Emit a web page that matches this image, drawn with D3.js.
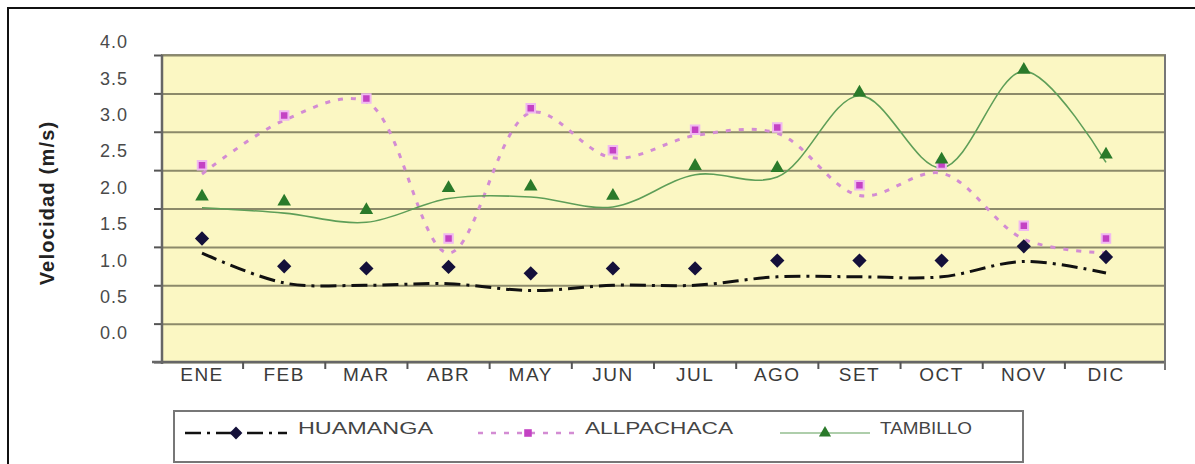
<!DOCTYPE html>
<html>
<head>
<meta charset="utf-8">
<script src="https://cdn.jsdelivr.net/npm/d3@7"></script>
<style>
  body { margin: 0; background: #fff; }
  text { font-family: "Liberation Sans", Arial, sans-serif; }
</style>
</head>
<body>
<svg width="1195" height="464"></svg>
<script>
// monthly mean wind speed (m/s)
var months = ["ENE", "FEB", "MAR", "ABR", "MAY", "JUN", "JUL", "AGO", "SET", "OCT", "NOV", "DIC"];
var huamanga = [1.42, 1.03, 1.0, 1.02, 0.93, 1.0, 1.0, 1.11, 1.11, 1.11, 1.31, 1.16];
var allpachaca = [2.45, 3.15, 3.39, 1.42, 3.25, 2.66, 2.95, 2.98, 2.17, 2.46, 1.6, 1.42];
var tambillo = [2.01, 1.94, 1.82, 2.13, 2.15, 2.02, 2.44, 2.41, 3.47, 2.53, 3.79, 2.6];
var yTicks = [0, 0.5, 1, 1.5, 2, 2.5, 3, 3.5, 4];

var svg = d3.select("svg");

// plot box
var plotLeft = 162, plotRight = 1165, plotTop = 55, plotBottom = 362;

var x = d3.scalePoint().domain(months).range([202, 1106]);
var y = d3.scaleLinear().domain([0, 4]).range([plotBottom, plotTop]);
// the marker layer and the value labels sit slightly higher in the original picture
var yMark = d3.scaleLinear().domain([0, 4]).range([339.5, 55]);
var yLabel = d3.scaleLinear().domain([0, 4]).range([333, 42]);

// outer frame (left and top edges)
svg.append("path")
    .attr("d", "M8,464V8H1195")
    .attr("fill", "none")
    .attr("stroke", "#111")
    .attr("stroke-width", 2);

svg.append("rect")
    .attr("x", plotLeft).attr("y", plotTop)
    .attr("width", plotRight - plotLeft).attr("height", plotBottom - plotTop)
    .attr("fill", "#fbf7c3")
    .attr("stroke", "#8a8a80")
    .attr("stroke-width", 2);

// gridlines + y ticks
svg.append("g")
    .attr("transform", "translate(" + plotLeft + ",0)")
    .call(d3.axisLeft(y).tickValues(yTicks).tickSize(-(plotRight - plotLeft)).tickFormat(""))
    .call(function (g) {
        g.select(".domain").remove();
        g.selectAll("line").attr("stroke", "#8c8a6a").attr("stroke-width", 2);
    });
svg.append("g")
    .attr("transform", "translate(" + plotLeft + ",0)")
    .call(d3.axisLeft(y).tickValues(yTicks).tickSize(8).tickFormat(""))
    .call(function (g) {
        g.select(".domain").remove();
        g.selectAll("line").attr("stroke", "#555").attr("stroke-width", 2);
    });

// y value labels
svg.append("g")
    .attr("transform", "translate(131,0)")
    .call(d3.axisLeft(yLabel).tickValues(yTicks).tickSize(0).tickFormat(d3.format(".1f")))
    .call(function (g) {
        g.select(".domain").remove();
        g.selectAll("text")
            .attr("font-size", 18)
            .attr("letter-spacing", 1)
            .attr("fill", "#4a4a4a")
            .attr("text-anchor", "end");
    });

// axis lines
svg.append("line")
    .attr("x1", plotLeft).attr("x2", plotLeft).attr("y1", plotTop).attr("y2", plotBottom + 2)
    .attr("stroke", "#666").attr("stroke-width", 2.5);
svg.append("line")
    .attr("x1", 152).attr("x2", plotRight).attr("y1", plotBottom).attr("y2", plotBottom)
    .attr("stroke", "#666").attr("stroke-width", 2.5);
svg.append("line")
    .attr("x1", plotRight).attr("x2", plotRight).attr("y1", plotTop).attr("y2", plotBottom + 8)
    .attr("stroke", "#777").attr("stroke-width", 2);

// x ticks between categories
var step = x.step();
svg.append("g").selectAll("line")
    .data(months.slice(1))
    .enter().append("line")
    .attr("x1", function (d) { return x(d) - step / 2; })
    .attr("x2", function (d) { return x(d) - step / 2; })
    .attr("y1", plotBottom).attr("y2", plotBottom + 7)
    .attr("stroke", "#555").attr("stroke-width", 2);

svg.append("g").selectAll("text")
    .data(months)
    .enter().append("text")
    .attr("x", function (d) { return x(d); })
    .attr("y", 381)
    .attr("text-anchor", "middle")
    .attr("font-size", 19)
    .attr("letter-spacing", 1.5)
    .attr("fill", "#3a3a3a")
    .text(function (d) { return d; });

// y axis title
svg.append("text")
    .attr("transform", "translate(54,203) rotate(-90)")
    .attr("text-anchor", "middle")
    .attr("font-size", 20)
    .attr("font-weight", "bold")
    .attr("letter-spacing", 1.2)
    .attr("fill", "#222")
    .text("Velocidad  (m/s)");

var series = [
    { name: "HUAMANGA", values: huamanga, color: "#111", width: 3, dash: "16,6,3,6", mark: "diamond", markColor: "#14103a", glow: "none", labelLen: 135 },
    { name: "ALLPACHACA", values: allpachaca, color: "#d38cd3", width: 3, dash: "5,8", mark: "square", markColor: "#c442c4", glow: "#f0b8f0", labelLen: 148 },
    { name: "TAMBILLO", values: tambillo, color: "#5e9e58", width: 1.6, dash: null, mark: "triangle", markColor: "#2a7a2a", glow: "none", labelLen: 92 }
];

var symbolType = { diamond: d3.symbolDiamond2, square: d3.symbolSquare, triangle: d3.symbolTriangle };
var symbolSize = { diamond: 130, square: 72, triangle: 80 };

var line = d3.line()
    .x(function (d, i) { return x(months[i]); })
    .y(function (d) { return y(d); })
    .curve(d3.curveCatmullRom.alpha(0.5));

series.forEach(function (s) {
    svg.append("path")
        .datum(s.values)
        .attr("d", line)
        .attr("fill", "none")
        .attr("stroke", s.color)
        .attr("stroke-width", s.width)
        .attr("stroke-dasharray", s.dash);
});

series.forEach(function (s) {
    svg.append("g").selectAll("path")
        .data(s.values)
        .enter().append("path")
        .attr("transform", function (d, i) {
            return "translate(" + x(months[i]) + "," + yMark(d) + ")";
        })
        .attr("d", d3.symbol().type(symbolType[s.mark]).size(symbolSize[s.mark]))
        .attr("fill", s.markColor)
        .attr("stroke", s.glow)
        .attr("stroke-width", 2);
});

// legend
var legend = svg.append("g");
legend.append("rect")
    .attr("x", 174).attr("y", 411)
    .attr("width", 849).attr("height", 51)
    .attr("fill", "#fff")
    .attr("stroke", "#777")
    .attr("stroke-width", 2);

var legendX = [185, 478, 780];
var legendLen = [102, 100, 90];
var legendText = [298, 585, 880];
series.forEach(function (s, i) {
    var ly = 433;
    legend.append("line")
        .attr("x1", legendX[i]).attr("x2", legendX[i] + legendLen[i])
        .attr("y1", ly).attr("y2", ly)
        .attr("stroke", s.color)
        .attr("stroke-width", s.width - 0.5)
        .attr("stroke-dasharray", s.dash);
    legend.append("path")
        .attr("transform", "translate(" + (legendX[i] + legendLen[i] / 2) + "," + ly + ")")
        .attr("d", d3.symbol().type(symbolType[s.mark]).size(symbolSize[s.mark] * 0.8))
        .attr("fill", s.markColor);
    legend.append("text")
        .attr("x", legendText[i])
        .attr("y", ly + 1)
        .attr("font-size", 16)
        .attr("textLength", s.labelLen)
        .attr("lengthAdjust", "spacingAndGlyphs")
        .attr("fill", "#444")
        .text(s.name);
});
</script>
</body>
</html>
